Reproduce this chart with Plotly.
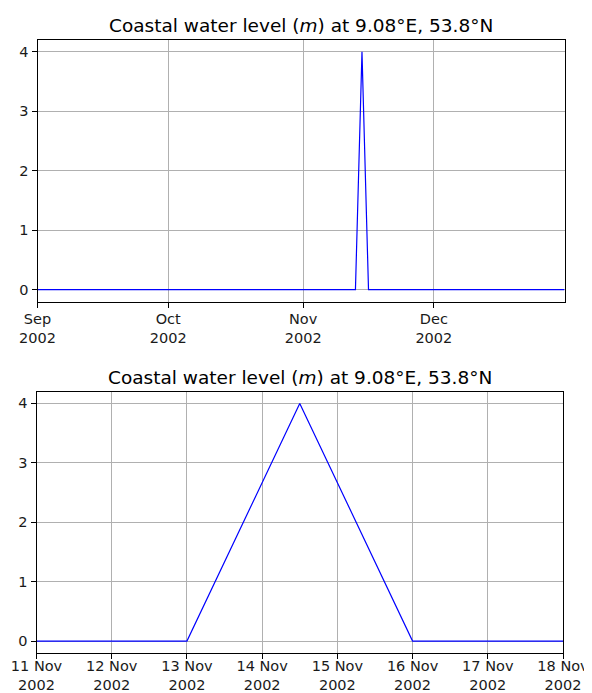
import plotly.graph_objects as go

# Data
times = ["2002-09-01 00:00", "2002-11-13 00:00", "2002-11-14 12:00", "2002-11-16 00:00", "2002-12-31 00:00"]
level = [0, 0, 4, 0, 0]

top_tickvals = ["2002-09-01", "2002-10-01", "2002-11-01", "2002-12-01"]
top_ticktext = ["Sep<br>2002", "Oct<br>2002", "Nov<br>2002", "Dec<br>2002"]
bot_tickvals = ["2002-11-%02d" % d for d in range(11, 19)]
bot_ticktext = ["%d Nov<br>2002" % d for d in range(11, 19)]
title_text = "Coastal water level (<i>m</i>) at 9.08°E, 53.8°N"

# page body has an 8px margin; the figure is sized to fill the rest of the window
OFF = 8
W, H = 592 - OFF, 693 - OFF
fig = go.Figure()
fig.add_trace(go.Scatter(x=times, y=level, mode="lines", line=dict(color="#0000ff", width=1.2),
                         xaxis="x", yaxis="y", showlegend=False))
fig.add_trace(go.Scatter(x=times, y=level, mode="lines", line=dict(color="#0000ff", width=1.2),
                         xaxis="x2", yaxis="y2", showlegend=False))

def px_x(p):
    return (p - OFF) / W

def px_y(p):
    return 1 - (p - OFF) / H

axis_common = dict(showline=True, linecolor="black", linewidth=1, mirror=True,
                   ticks="outside", ticklen=5, tickcolor="black", tickwidth=1,
                   showgrid=True, gridcolor="#b0b0b0", gridwidth=1, zeroline=False,
                   automargin=False,
                   tickfont=dict(family="DejaVu Sans", size=14.5, color="#1a1a1a"))

fig.update_layout(
    template="none",
    width=W, height=H, margin=dict(l=0, r=0, t=0, b=0, pad=0),
    paper_bgcolor="white", plot_bgcolor="white",
    xaxis=dict(domain=[px_x(37.5), px_x(564.5)], anchor="y", type="date",
               range=["2002-09-01", "2002-12-31"], tickvals=top_tickvals, ticktext=top_ticktext,
               ticklabelstandoff=-1, **axis_common),
    yaxis=dict(domain=[px_y(301.5), px_y(40)], anchor="x", range=[-0.2, 4.2],
               tickvals=[0, 1, 2, 3, 4], **axis_common),
    xaxis2=dict(domain=[px_x(36.5), px_x(563)], anchor="y2", type="date",
                range=["2002-11-11", "2002-11-18"], tickvals=bot_tickvals, ticktext=bot_ticktext,
                ticklabelstandoff=-5, **axis_common),
    yaxis2=dict(domain=[px_y(653), px_y(391.5)], anchor="x2", range=[-0.2, 4.2],
                tickvals=[0, 1, 2, 3, 4], **axis_common),
    annotations=[
        dict(text=title_text, x=px_x((37.5 + 564.5) / 2), y=px_y(26), xref="paper", yref="paper",
             showarrow=False, font=dict(family="DejaVu Sans", size=18.5, color="black"),
             xanchor="center", yanchor="middle"),
        dict(text=title_text, x=px_x((36.5 + 563) / 2), y=px_y(377), xref="paper", yref="paper",
             showarrow=False, font=dict(family="DejaVu Sans", size=18.5, color="black"),
             xanchor="center", yanchor="middle"),
    ],
)

fig.write_html("out.html")
